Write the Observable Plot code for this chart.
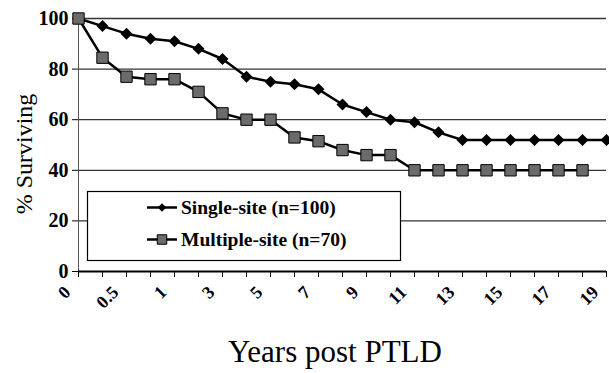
<!DOCTYPE html>
<html>
<head>
<meta charset="utf-8">
<script src="https://cdn.jsdelivr.net/npm/d3@7"></script>
<script src="https://cdn.jsdelivr.net/npm/@observablehq/plot@0.6"></script>
<style>
  html, body { margin: 0; padding: 0; background: #fff; }
  #chart { width: 609px; height: 373px; }
</style>
</head>
<body>
<div id="chart"></div>
<script>
// Time points (years post PTLD), evenly spaced on the axis
const timepoints = [0, 0.25, 0.5, 0.75, 1, 2, 3, 4, 5, 6, 7, 8, 9, 10, 11, 12, 13, 14, 15, 16, 17, 18, 19];
// Tick labels shown on the x axis
const tickLabels = [0, 0.5, 1, 3, 5, 7, 9, 11, 13, 15, 17, 19];
const yTicks = [0, 20, 40, 60, 80, 100];
const gridValues = [20, 40, 60, 80, 100];

// % surviving
const singleSite = [100, 97, 94, 92, 91, 88, 84, 77, 75, 74, 72, 66, 63, 60, 59, 55, 52, 52, 52, 52, 52, 52, 52];
const multipleSite = [100, 84.5, 77, 76, 76, 71, 62.5, 60, 60, 53, 51.5, 48, 46, 46, 40, 40, 40, 40, 40, 40, 40, 40];

const seriesNames = ["Single-site (n=100)", "Multiple-site (n=70)"];
const xTitle = "Years post PTLD";
const yTitle = "% Surviving";

const single = singleSite.map((v, i) => ({t: timepoints[i], v}));
const multiple = multipleSite.map((v, i) => ({t: timepoints[i], v}));

const serif = "'Liberation Serif', 'Times New Roman', serif";

const plot = Plot.plot({
  width: 609,
  height: 373,
  marginLeft: 78,
  marginRight: 3,
  marginTop: 18,
  marginBottom: 102,
  style: {fontFamily: serif, background: "#fff"},
  x: {type: "point", domain: timepoints, padding: 0, axis: null},
  y: {domain: [0, 100], axis: null},
  marks: [
    Plot.ruleY(gridValues, {stroke: "#333", strokeWidth: 1.3}),
    Plot.ruleX([0], {stroke: "#555", strokeWidth: 1}),
    Plot.ruleY([0], {stroke: "#000", strokeWidth: 2}),
    Plot.axisY({ticks: yTicks, tickSize: 6, tickPadding: 4, fontSize: 20, fontWeight: "bold", fill: "#000", stroke: "#000", strokeWidth: 1, label: null}),
    Plot.axisX({ticks: timepoints, tickSize: 6, tickFormat: () => "", label: null, stroke: "#000", strokeWidth: 1}),
    Plot.text(tickLabels, {x: d => d, frameAnchor: "bottom", dy: 22, dx: -7, rotate: -45, textAnchor: "end", fontSize: 18, fontWeight: "bold", fill: "#000"}),
    Plot.line(single, {x: "t", y: "v", stroke: "#000", strokeWidth: 2.5}),
    Plot.dot(single, {x: "t", y: "v", symbol: "diamond2", r: 5.4, fill: "#000", stroke: "none"}),
    Plot.line(multiple, {x: "t", y: "v", stroke: "#000", strokeWidth: 2.5}),
    Plot.dot(multiple, {x: "t", y: "v", symbol: "square", r: 6.4, fill: "#6b6b6b", stroke: "#000", strokeWidth: 1})
  ]
});

document.getElementById("chart").appendChild(plot);

const svg = d3.select(plot);

// Axis titles
svg.append("text").attr("transform", "translate(32,154) rotate(-90)")
  .attr("text-anchor", "middle").attr("font-size", 24).attr("fill", "#000").text(yTitle);
svg.append("text").attr("x", 335).attr("y", 362)
  .attr("text-anchor", "middle").attr("font-size", 31).attr("fill", "#000").text(xTitle);

// Legend box drawn inside the plot SVG
const lg = svg.append("g").attr("class", "legend");
lg.append("rect").attr("x", 87.5).attr("y", 191.5).attr("width", 313).attr("height", 69)
  .attr("fill", "#fff").attr("stroke", "#000").attr("stroke-width", 1.2);
const rows = [
  {name: seriesNames[0], y: 207.5, sym: d3.symbolDiamond2, size: 48, fill: "#000", stroke: "none"},
  {name: seriesNames[1], y: 239.5, sym: d3.symbolSquare, size: 90, fill: "#6b6b6b", stroke: "#000"}
];
rows.forEach(r => {
  lg.append("line").attr("x1", 147).attr("x2", 177).attr("y1", r.y).attr("y2", r.y)
    .attr("stroke", "#000").attr("stroke-width", 2.5);
  lg.append("path").attr("d", d3.symbol(r.sym, r.size)())
    .attr("transform", `translate(162,${r.y})`).attr("fill", r.fill).attr("stroke", r.stroke);
  lg.append("text").attr("x", 181).attr("y", r.y + 6).attr("text-anchor", "start")
    .attr("font-size", 19.5).attr("font-weight", "bold").attr("fill", "#000").text(r.name);
});

// Serif type everywhere, as in the reference
svg.selectAll("text").style("font-family", serif);
</script>
</body>
</html>
